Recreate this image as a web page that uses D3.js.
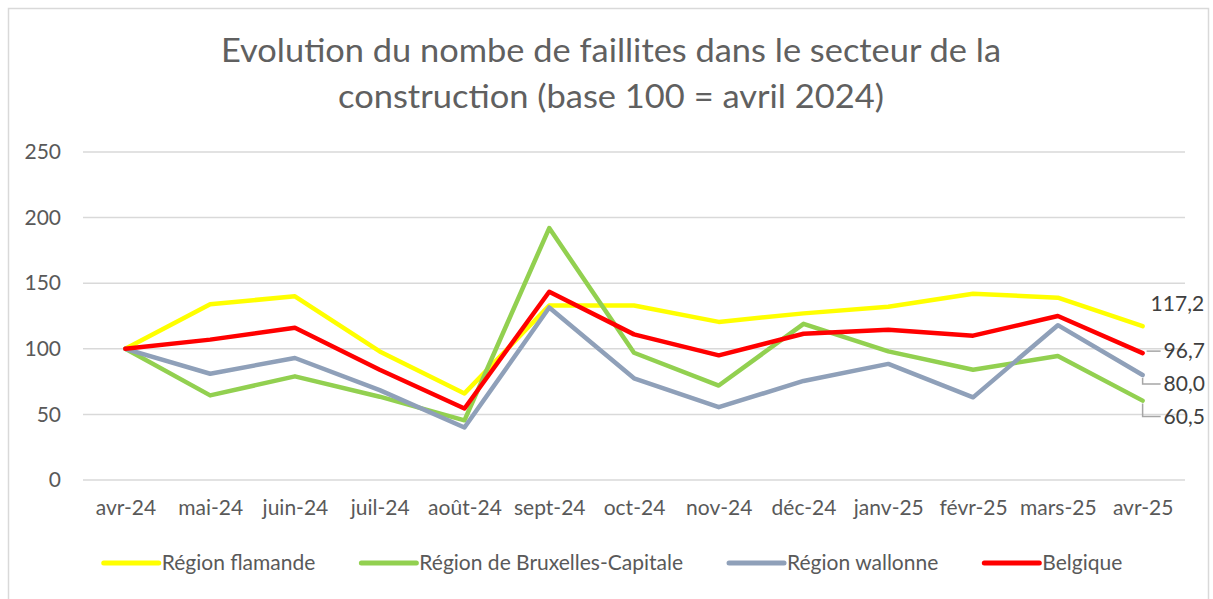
<!DOCTYPE html>
<html>
<head>
<meta charset="utf-8">
<script src="https://cdn.jsdelivr.net/npm/d3@7"></script>
<style>
  html, body { margin: 0; padding: 0; background: #ffffff; }
  svg { display: block; font-family: Lato, "Open Sans", sans-serif; }
</style>
</head>
<body>
<svg id="chart" width="1213" height="599"></svg>
<script>
// ---- data ----
const categories = ["avr-24","mai-24","juin-24","juil-24","août-24","sept-24","oct-24","nov-24","déc-24","janv-25","févr-25","mars-25","avr-25"];
const seriesNames = ["Région flamande","Région de Bruxelles-Capitale","Région wallonne","Belgique"];
const flamande  = [100, 134, 140, 98, 66, 133, 133, 120.5, 127, 132, 142, 139, 117.2];
const bruxelles = [100, 64.5, 79, 63.5, 45.5, 192, 97, 72, 119, 98, 84, 94.5, 60.5];
const wallonne  = [100, 81, 93, 68.5, 40, 131.5, 77.5, 55.5, 75.5, 88.5, 63, 118, 80.0];
const belgique  = [100, 107, 116, 84, 54.5, 143.5, 111, 95, 111.5, 114.5, 110, 125, 96.7];
const yTicks = [0, 50, 100, 150, 200, 250];
const titleLines = ["Evolution du nombe de faillites dans le secteur de la", "construction (base 100 = avril 2024)"];

// ---- style / layout ----
const colors = ["#FFFF00", "#92D050", "#8FA0B9", "#FF0000"];
const labelDy = [-23, 16, 9, -2];       // end-label vertical offsets (px)
const labelLeader = [false, true, true, true];
const titleWidths = [780, 546];
const textColor = "#595959";
const gridColor = "#d9d9d9";

const seriesValues = [flamande, bruxelles, wallonne, belgique];
const series = seriesNames.map((n, i) => ({ name: n, values: seriesValues[i], color: colors[i], dy: labelDy[i], leader: labelLeader[i] }));

const svg = d3.select("#chart");

// outer border
svg.append("rect").attr("x", 8.5).attr("y", 8.5).attr("width", 1200).attr("height", 600)
  .attr("fill", "#fff").attr("stroke", gridColor).attr("stroke-width", 1.5);

// scales
const x = d3.scalePoint().domain(categories).range([83, 1185]).padding(0.5);
const y = d3.scaleLinear().domain([0, 250]).range([480, 152]);

// title
svg.append("g").selectAll("text").data(titleLines).join("text")
  .attr("x", 611).attr("y", (d, i) => 62 + i * 46)
  .attr("text-anchor", "middle")
  .attr("font-size", 32).attr("fill", "#606060")
  .attr("textLength", (d, i) => titleWidths[i])
  .attr("lengthAdjust", "spacingAndGlyphs")
  .text(d => d);

// gridlines
svg.append("g").selectAll("line").data(yTicks).join("line")
  .attr("x1", 83).attr("x2", 1185)
  .attr("y1", d => y(d)).attr("y2", d => y(d))
  .attr("stroke", gridColor).attr("stroke-width", 1.5);

// y axis labels
const yAxis = d3.axisLeft(y).tickValues(yTicks).tickSize(0).tickPadding(0).tickFormat(d3.format("d"));
const yg = svg.append("g").attr("transform", "translate(61,0)").call(yAxis);
yg.select(".domain").remove();
yg.selectAll("text").attr("font-family", "Lato, 'Open Sans', sans-serif").attr("font-size", 21).attr("fill", textColor);

// x axis labels
const xAxis = d3.axisBottom(x).tickSize(0).tickPadding(0);
const xg = svg.append("g").attr("transform", "translate(0,500)").call(xAxis);
xg.select(".domain").remove();
xg.selectAll("text").attr("font-family", "Lato, 'Open Sans', sans-serif").attr("font-size", 21).attr("fill", textColor);

// lines
const line = d3.line().x((d, i) => x(categories[i])).y(d => y(d));
svg.append("g").selectAll("path").data(series).join("path")
  .attr("d", d => line(d.values))
  .attr("fill", "none")
  .attr("stroke", d => d.color)
  .attr("stroke-width", 4.5)
  .attr("stroke-linejoin", "round")
  .attr("stroke-linecap", "round");

// end labels
const fmt = v => d3.format(".1f")(v).replace(".", ",");
const last = categories.length - 1;
const lab = svg.append("g");
series.forEach(s => {
  const px = x(categories[last]);
  const py = y(s.values[last]);
  const ly = py + s.dy;
  if (s.leader) {
    const pts = Math.abs(s.dy) > 4 ? [[px, py + 3], [px, ly], [px + 18, ly]] : [[px + 4, ly], [px + 18, ly]];
    lab.append("path").attr("d", d3.line()(pts)).attr("fill", "none").attr("stroke", "#a6a6a6").attr("stroke-width", 1.5);
    lab.append("text").attr("x", px + 21).attr("y", ly).attr("dy", "0.35em")
      .attr("font-size", 21).attr("fill", "#404040").text(fmt(s.values[last]));
  } else {
    lab.append("text").attr("x", px + 8).attr("y", ly).attr("dy", "0.35em")
      .attr("font-size", 21).attr("fill", "#404040").text(fmt(s.values[last]));
  }
});

// legend
const legend = svg.append("g");
const lineLen = 55, gapText = 3, gapItem = 46;
const items = series.map(s => {
  const g = legend.append("g");
  g.append("line").attr("x1", 0).attr("x2", lineLen).attr("y1", 0).attr("y2", 0)
    .attr("stroke", s.color).attr("stroke-width", 5).attr("stroke-linecap", "round");
  const t = g.append("text").attr("x", lineLen + gapText).attr("y", 0).attr("dy", "0.35em")
    .attr("font-size", 21).attr("fill", textColor).text(s.name);
  return { g, w: lineLen + gapText + t.node().getComputedTextLength() };
});
const total = d3.sum(items, d => d.w) + gapItem * (items.length - 1);
let cx = 613 - total / 2;
items.forEach(it => { it.g.attr("transform", `translate(${cx},563)`); cx += it.w + gapItem; });
</script>
</body>
</html>
